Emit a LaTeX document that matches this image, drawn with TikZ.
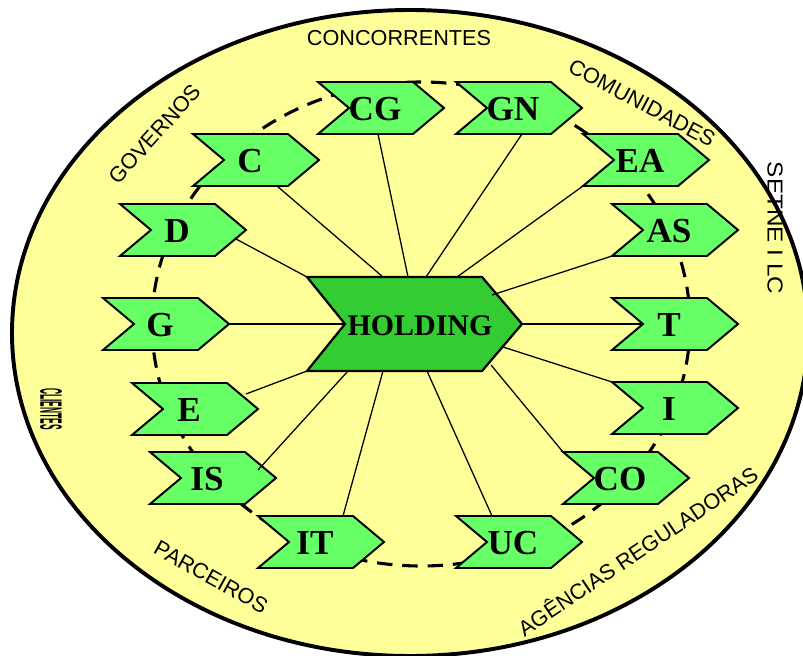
\documentclass[tikz,border=0pt]{standalone}
\usepackage{fontspec}
\setmainfont{Liberation Serif}
\setsansfont{Liberation Sans}
\definecolor{bgyellow}{HTML}{FFFF99}
\definecolor{chevgreen}{HTML}{66FF66}
\definecolor{holdgreen}{HTML}{33CC33}
\newcommand{\chev}[4]{%
  \draw[chevshape] (#2,#3) ++(-63,-26) -- ++(95,0) -- ++(31,26) -- ++(-31,26) -- ++(-95,0) -- ++(31,-26) -- cycle;
  \node[chevlab] (#1) at ([shift={(-6,1)}]#2,#3) {#4};
}
\begin{document}
\begin{tikzpicture}[x=0.025cm,y=-0.025cm,
  chevlab/.style={font=\fontsize{25}{28}\selectfont\bfseries, inner sep=0pt},
  holdlab/.style={font=\fontsize{21.3}{24}\selectfont\bfseries, inner sep=0pt},
  outerlab/.style={font=\sffamily\fontsize{15.4}{18}\selectfont, inner sep=0pt},
  chevshape/.style={fill=chevgreen, draw=black, line width=1.4pt},
  holdshape/.style={fill=holdgreen, draw=black, line width=1.6pt},
  link/.style={line width=0.9pt}]
\useasboundingbox (0,0) rectangle (803,656);
\clip (0,0) rectangle (803,656);
% outer ellipse
\draw[fill=bgyellow, line width=2.8pt] (410,333) ellipse [x radius=398, y radius=323];
% dashed inner ellipse
\draw[line width=2.2pt, dash pattern=on 11pt off 7pt] (421,324) ellipse [x radius=269, y radius=242];
% chevrons
\chev{CG}{381}{108}{CG}
\chev{GN}{519}{108}{GN}
\chev{C}{256}{160}{C}
\chev{D}{183}{230}{D}
\chev{G}{166}{324}{G}
\chev{E}{195}{409}{E}
\chev{IS}{213}{478}{IS}
\chev{IT}{321}{542}{IT}
\chev{UC}{519}{542}{UC}
\chev{CO}{626}{478}{CO}
\chev{I}{675}{408}{I}
\chev{T}{675}{324}{T}
\chev{AS}{675}{230}{AS}
\chev{EA}{646}{160}{EA}
% holding
\draw[holdshape] (307,277) -- (482,277) -- (522,324) -- (482,371) -- (307,371) -- (345,324) -- cycle;
\node[holdlab] (H) at (420,326) {HOLDING};
% connectors
\draw[link] ([shift={(3,25)}]CG.center) -- ([shift={(-12,-49)}]H.center);
\draw[link] ([shift={(9,25)}]GN.center) -- ([shift={(6,-49)}]H.center);
\draw[link] ([shift={(27,25)}]C.center) -- ([shift={(-37,-49)}]H.center);
\draw[link] ([shift={(59,8)}]D.center) -- ([shift={(-113,-49)}]H.center);
\draw[link] ([shift={(-57,25)}]EA.center) -- ([shift={(37,-49)}]H.center);
\draw[link] ([shift={(-57,25)}]AS.center) -- ([shift={(72,-31)}]H.center);
\draw[link] ([shift={(-26,-1)}]T.center) -- ([shift={(102,-2)}]H.center);
\draw[link] ([shift={(69,-1)}]G.center) -- ([shift={(-75,-2)}]H.center);
\draw[link] ([shift={(57,-16)}]E.center) -- ([shift={(-113,45)}]H.center);
\draw[link] ([shift={(51,-9)}]IS.center) -- ([shift={(-72,45)}]H.center);
\draw[link] ([shift={(28,-27)}]IT.center) -- ([shift={(-37,45)}]H.center);
\draw[link] ([shift={(-21,-27)}]UC.center) -- ([shift={(7,45)}]H.center);
\draw[link] ([shift={(-57,-27)}]CO.center) -- ([shift={(71,39)}]H.center);
\draw[link] ([shift={(-57,-27)}]I.center) -- ([shift={(83,21)}]H.center);
% outer labels
\node[outerlab] (conc) at (399,38) {CONCORRENTES};
\node[outerlab, rotate=48] (gov) at (155,134) {GOVERNOS};
\node[outerlab, rotate=-28] (com) at (642,103) {COMUNIDADES};
\node[outerlab, rotate=-90] (cli) at (775,228) {\scalebox{1.12}[1]{SETNE I LC}};
\node[outerlab, rotate=-29] (parc) at (211,577) {PARCEIROS};
\node[outerlab, rotate=34] (ag) at (637,550) {AGÊNCIAS REGULADORAS};
\node[inner sep=0pt, rotate=-90] (left) at (51,409) {\scalebox{0.27}[1]{\sffamily\bfseries\fontsize{22}{22}\selectfont CLIENTES}};
\end{tikzpicture}
\end{document}
